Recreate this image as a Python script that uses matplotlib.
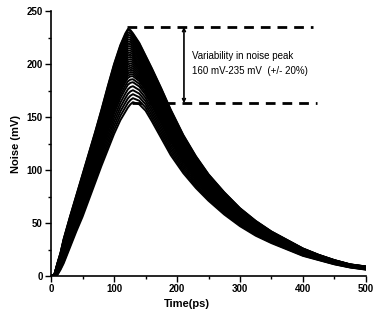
import numpy as np
import matplotlib
matplotlib.use("Agg")
from matplotlib import pyplot as plt
from matplotlib.ticker import MultipleLocator

# time grid (ps) shared by the two outer curves
time_ps = [0, 5, 10, 15, 20, 30, 40, 50, 60, 70, 80, 90, 100, 110, 118, 122, 126, 130,
           140, 150, 160, 175, 190, 210, 230, 250, 275, 300, 325, 350, 375, 400,
           425, 450, 475, 500]

# highest-peak curve (mV)
noise_top = [0, 1, 12, 22, 35, 56, 76, 96, 116, 136, 157, 179, 200, 218, 229, 233, 232, 229,
             220, 208, 196, 177, 157, 133, 113, 96, 79, 64, 52, 42, 34, 26,
             20, 15, 11, 9]

# lowest-peak curve (mV)
noise_bottom = [0, 0, 1, 6, 12, 27, 42, 56, 72, 88, 104, 119, 134, 147, 155, 159, 162, 164,
                162, 156, 146, 130, 114, 97, 83, 71, 58, 47, 38, 31, 25, 19,
                15, 11, 8, 6]

# peak values of the individual simulated curves (mV)
peak_levels = [164, 168, 172, 176, 180, 184, 187, 190, 192, 194, 196, 198, 200, 202,
               204, 206, 208, 210, 212, 214, 216, 218, 220, 222, 224, 226, 228, 230,
               232, 233]

# annotation values
peak_hi = 235
peak_lo = 163
note_lines = ["Variability in noise peak", "160 mV-235 mV  (+/- 20%)"]


def main():
    t = np.array(time_ps)
    top = np.array(noise_top)
    bot = np.array(noise_bottom)

    fig = plt.figure(figsize=(3.73, 3.2), dpi=100)
    ax = fig.add_axes([0.137, 0.1375, 0.844, 0.828])

    pmin, pmax = min(peak_levels), max(peak_levels)
    for p in peak_levels:
        w = (p - pmin) / (pmax - pmin)
        ax.plot(t, bot + (top - bot) * w, color="black", lw=1.4)

    # dashed marker lines at the highest and lowest peak
    ax.plot([120, 416], [peak_hi, peak_hi], color="black", lw=2, ls=(0, (3.5, 2.5)))
    ax.plot([128, 422], [peak_lo, peak_lo], color="black", lw=2, ls=(0, (3.5, 2.5)))
    ax.annotate("", xy=(211, peak_lo), xytext=(211, peak_hi),
                arrowprops=dict(arrowstyle="<->", color="black", lw=1.2,
                                shrinkA=0, shrinkB=0, mutation_scale=5))
    ax.text(224, 208, note_lines[0], fontsize=7, family="Liberation Sans", va="center")
    ax.text(224, 193, note_lines[1], fontsize=7, family="Liberation Sans", va="center")

    ax.set_xlim(0, 500)
    ax.set_ylim(0, 250)
    ax.xaxis.set_major_locator(MultipleLocator(100))
    ax.xaxis.set_minor_locator(MultipleLocator(50))
    ax.yaxis.set_major_locator(MultipleLocator(50))
    ax.yaxis.set_minor_locator(MultipleLocator(25))
    ax.tick_params(which="major", direction="out", length=4, width=1, labelsize=7, pad=2)
    ax.tick_params(which="minor", direction="out", length=2, width=1)
    for lab in ax.get_xticklabels() + ax.get_yticklabels():
        lab.set_fontweight("bold")
        lab.set_family("Liberation Sans")

    ax.spines["top"].set_visible(False)
    ax.spines["right"].set_visible(False)
    ax.spines["left"].set_linewidth(1.2)
    ax.spines["bottom"].set_linewidth(1.2)

    ax.set_xlabel("Time(ps)", fontsize=8, fontweight="bold", family="Liberation Sans", labelpad=3)
    ax.set_ylabel("Noise (mV)", fontsize=8, fontweight="bold", family="Liberation Sans", labelpad=4)
    ax.xaxis.set_label_coords(0.43, -0.085)

    fig.savefig("out.png", dpi=100, facecolor="white")


if __name__ == "__main__":
    main()
